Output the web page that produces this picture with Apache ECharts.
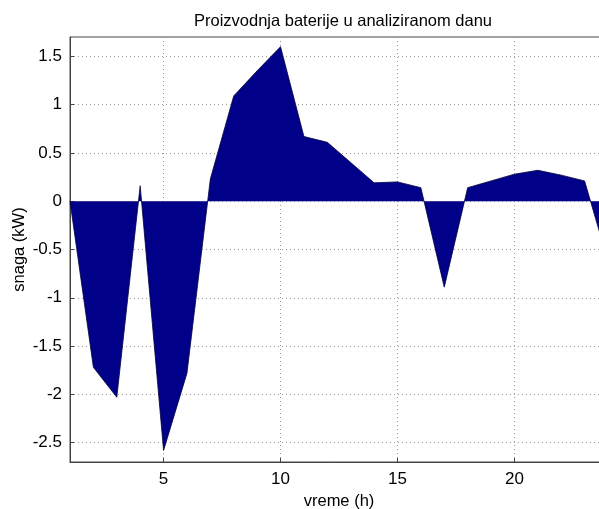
<!DOCTYPE html>
<html>
<head>
<meta charset="utf-8">
<script src="https://cdn.jsdelivr.net/npm/echarts@6/dist/echarts.min.js"></script>
<style>
  html, body { margin: 0; padding: 0; background: #fff; }
  #chart { width: 599px; height: 509px; }
</style>
</head>
<body>
<div id="chart"></div>
<script>
// sati u danu i snaga baterije (kW)
var hours = [1, 2, 3, 4, 5, 6, 7, 8, 9, 10, 11, 12, 13, 14, 15, 16, 17, 18, 19, 20, 21, 22, 23, 24]
var power = [0, -1.72, -2.03, 0.16, -2.58, -1.78, 0.23, 1.09, 1.35, 1.6, 0.67, 0.61, 0.40, 0.19, 0.20, 0.14, -0.89, 0.14, 0.21, 0.28, 0.32, 0.27, 0.21, -0.62]
var xTicks = [5, 10, 15, 20]
var yTicks = [-2.5, -2, -1.5, -1, -0.5, 0, 0.5, 1, 1.5]

var font = 'Liberation Sans, Arial, sans-serif'
var gridLine = { show: true, lineStyle: { color: '#999', type: [1, 3], width: 1 } }

var myChart = echarts.init(document.getElementById('chart'))
myChart.setOption({
  animation: false,
  title: {
    text: 'Proizvodnja baterije u analiziranom danu',
    left: 338,
    textAlign: 'center',
    top: 8,
    textStyle: { fontFamily: font, fontSize: 16.5, fontWeight: 'normal', color: '#000' }
  },
  grid: {
    left: 70, right: -9, top: 37, bottom: 47,
    show: true, borderColor: '#444', borderWidth: 1,
    outerBoundsMode: 'none'
  },
  xAxis: {
    type: 'value',
    min: 1,
    max: 24,
    name: 'vreme (h)',
    nameLocation: 'middle',
    nameGap: 22,
    nameTextStyle: { fontFamily: font, fontSize: 16.5, color: '#000' },
    axisLine: { show: true, onZero: false, lineStyle: { color: '#444' } },
    axisTick: { show: true, inside: true, length: 4, customValues: xTicks, lineStyle: { color: '#444' } },
    axisLabel: { customValues: xTicks, fontFamily: font, fontSize: 17, color: '#000', margin: 9 },
    splitLine: gridLine
  },
  yAxis: {
    type: 'value',
    min: -2.7,
    max: 1.7,
    name: 'snaga (kW)',
    nameLocation: 'middle',
    nameGap: 42,
    nameMoveOverlap: false,
    nameTextStyle: { fontFamily: font, fontSize: 16.5, color: '#000' },
    axisLine: { show: true, lineStyle: { color: '#444' } },
    axisTick: { show: true, inside: true, length: 4, customValues: yTicks, lineStyle: { color: '#444' } },
    axisLabel: { customValues: yTicks, fontFamily: font, fontSize: 17, color: '#000', margin: 8 },
    splitLine: gridLine
  },
  series: [{
    type: 'line',
    data: hours.map(function (h, i) { return [h, power[i]] }),
    showSymbol: false,
    lineStyle: { color: '#000040', width: 0.8 },
    areaStyle: { color: '#000088', opacity: 1 }
  }]
})
</script>
</body>
</html>
